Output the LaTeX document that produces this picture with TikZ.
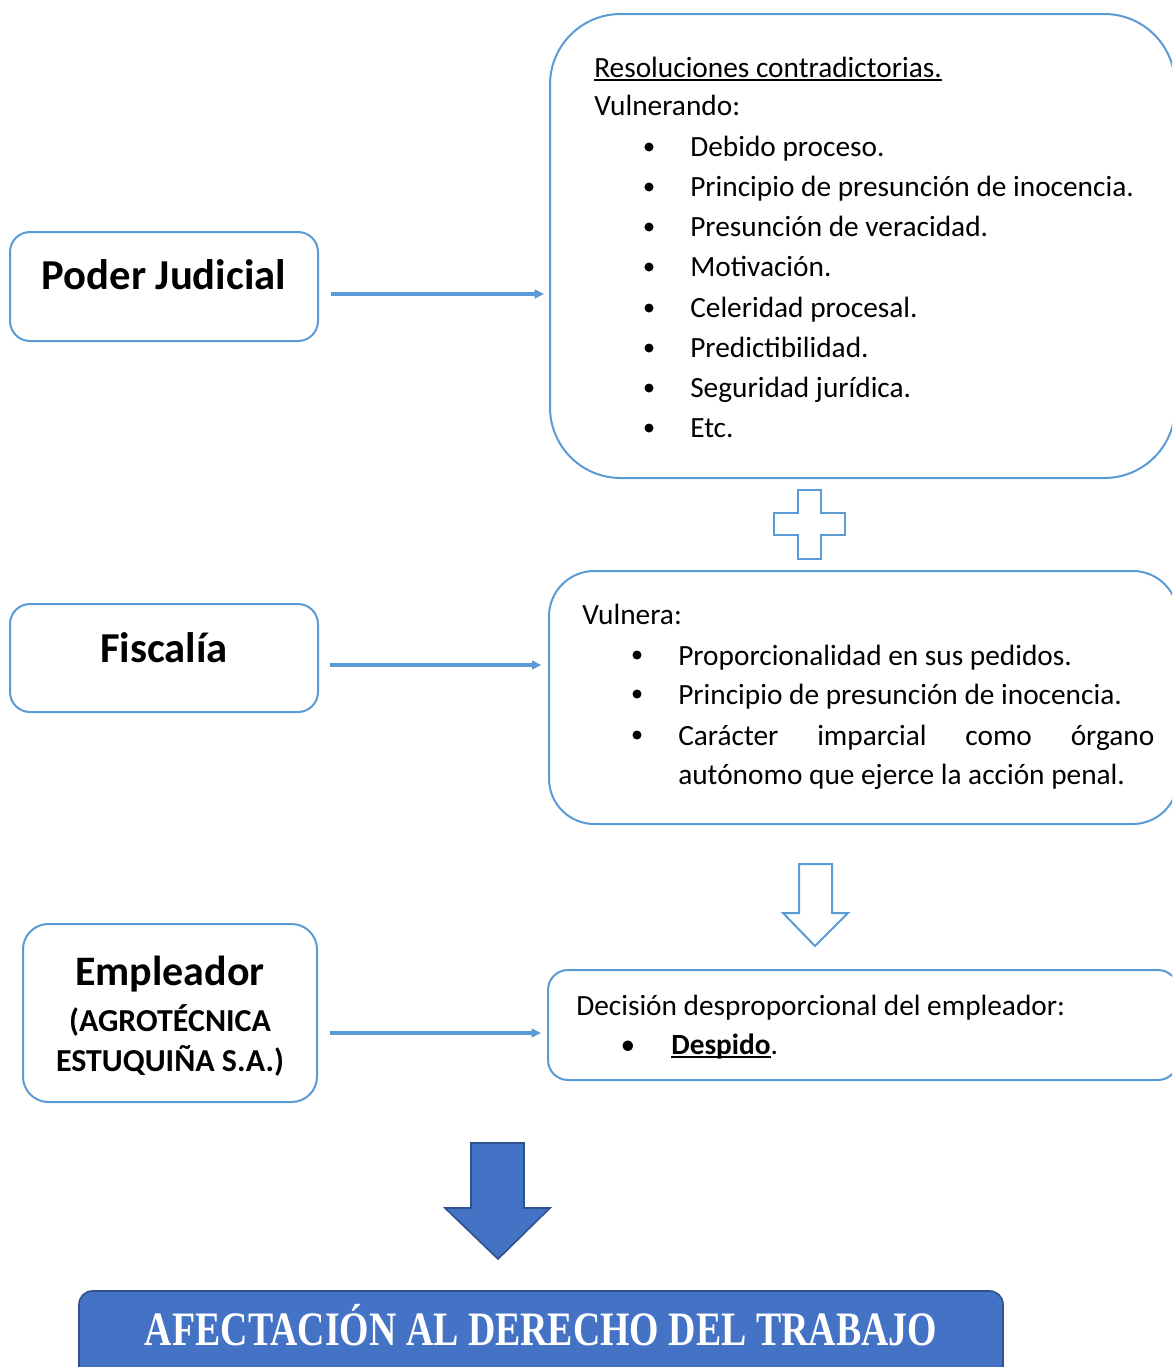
\documentclass[tikz,border=0pt]{standalone}
\usepackage{fontspec}
\setmainfont{Carlito}
\newfontfamily\titlefont{Liberation Serif}
\usetikzlibrary{arrows.meta}
\definecolor{lineblue}{HTML}{5B9BD5}
\definecolor{fillblue}{HTML}{4472C4}
\definecolor{darkblue}{HTML}{2F528F}
\newcommand\wordline[1]{\setbox0\hbox{#1}\rlap{\rule[-3pt]{\wd0}{1.2pt}}\box0}
\tikzset{
  box/.style={draw=lineblue,line width=1.5pt,rounded corners=15pt},
  txt/.style={anchor=base west,inner sep=0pt,font=\fontsize{22}{26}\selectfont},
  head/.style={anchor=base,inner sep=0pt,font=\bfseries\fontsize{32}{38}\selectfont},
  dot/.style={circle,fill=black,inner sep=0pt,minimum size=6.75pt},
  conn/.style={draw=lineblue,line width=2.6pt,->},
  outline/.style={draw=lineblue,line width=1.5pt,line join=miter},
}
\begin{document}
\begin{tikzpicture}[x=0.75pt,y=-0.75pt,>={Triangle[length=7pt,width=6.5pt]}]
  \useasboundingbox (0,0) rectangle (1172,1367);
  \clip (0,0) rectangle (1172,1367);
  % left boxes
  \node[box,minimum width=231pt,minimum height=81.75pt](judicial)at(164, 286.5){};
  \node[box,minimum width=231pt,minimum height=81pt](fiscalia)at(164, 658){};
  \node[box,rounded corners=19pt,minimum width=220.5pt,minimum height=133.5pt](empleador)at(170, 1013){};
  \node[head](judicialtxt)at(164, 289){Poder Judicial};
  \node[head](fiscaliatxt)at(164, 662){Fiscalía};
  \node[head,font=\bfseries\fontsize{31.5}{36}\selectfont](empleadortxt)at(170, 985){Empleador};
  \node[head,font=\bfseries\fontsize{24}{28}\selectfont](agrotxt)at(170, 1031){(AGROTÉCNICA};
  \node[head,font=\bfseries\fontsize{24}{28}\selectfont](estutxt)at(170, 1071){ESTUQUIÑA S.A.)};
  % right boxes
  \node[box,rounded corners=53pt,minimum width=468.75pt,minimum height=348pt](resol)at(862.5, 246){};
  \node[box,rounded corners=34pt,minimum width=471.75pt,minimum height=189.75pt](vulnera)at(863.5, 697.5){};
  \node[box,minimum width=472.5pt,minimum height=82.5pt](decision)at(863, 1025){};
  % Poder Judicial
  \node[txt](r0)at(594, 77){\wordline{Resoluciones contradictorias.}};
  \node[txt](r1)at(594, 115){Vulnerando:};
  \node[txt](r2)at(690, 156){Debido proceso.};
  \node[txt](r3)at(690, 196){Principio de presunción de inocencia.};
  \node[txt](r4)at(690, 236){Presunción de veracidad.};
  \node[txt](r5)at(690, 276){Motivación.};
  \node[txt](r6)at(690, 317){Celeridad procesal.};
  \node[txt](r7)at(690, 357){Predictibilidad.};
  \node[txt](r8)at(690, 397){Seguridad jurídica.};
  \node[txt](r9)at(690, 437){Etc.};
  \foreach \n/\y in {2/147,3/187,4/227,5/267,6/308,7/348,8/388,9/428}
    \node[dot](rb\n)at(649, \y){};
  % Fiscalia
  \node[txt](v0)at(582, 624){Vulnera:};
  \node[txt](v1)at(678, 665){Proporcionalidad en sus pedidos.};
  \node[txt](v2)at(678, 704){Principio de presunción de inocencia.};
  \node[txt](v3)at(678, 745){\makebox[357pt][s]{Carácter\hfill imparcial\hfill como\hfill órgano}};
  \node[txt](v4)at(678, 784){autónomo que ejerce la acción penal.};
  \foreach \n/\y in {1/655,2/694,3/735}
    \node[dot](vb\n)at(637, \y){};
  % Empleador
  \node[txt](d0)at(576, 1015){Decisión desproporcional del empleador:};
  \node[txt,anchor=base](db)at(628, 1054){•};
  \node[txt](d1)at(671, 1054){\textbf{\wordline{Despido}}.};
  % connectors
  \path ([shift={(12,7.5)}]judicial.east) coordinate (j1);
  \path ([shift={(11,7)}]fiscalia.east) coordinate (f1);
  \path ([shift={(12,20)}]empleador.east) coordinate (e1);
  \draw[conn,shorten >=3.75pt] (j1) -- (j1 -| resol.west);
  \draw[conn,shorten >=5pt] (f1) -- (f1 -| vulnera.west);
  \draw[conn,shorten >=4.5pt] (e1) -- (e1 -| decision.west);
  % plus and arrows
  \draw[outline] (798,490) -- (821,490) -- (821,513) -- (845,513) -- (845,535) -- (821,535)
    -- (821,559) -- (798,559) -- (798,535) -- (774,535) -- (774,513) -- (798,513) -- cycle;
  \draw[outline] (799,864) -- (832,864) -- (832,913) -- (848,913) -- (815,946) -- (783,913)
    -- (799,913) -- cycle;
  \draw[draw=darkblue,fill=fillblue,line width=1.2pt] (471,1143) -- (524,1143) -- (524,1208)
    -- (550,1208) -- (498,1259) -- (445,1208) -- (471,1208) -- cycle;
  % result
  \node[draw=darkblue,fill=fillblue,line width=1.2pt,rounded corners=10pt,minimum width=693pt,minimum height=70.5pt](afectacion)at(541, 1338){};
  \node[anchor=base,inner sep=0pt,text=white](afectaciontxt)at(541, 1345){\resizebox{594pt}{\height}{\titlefont\bfseries\fontsize{36}{40}\selectfont AFECTACIÓN AL DERECHO DEL TRABAJO}};
\end{tikzpicture}
\end{document}
